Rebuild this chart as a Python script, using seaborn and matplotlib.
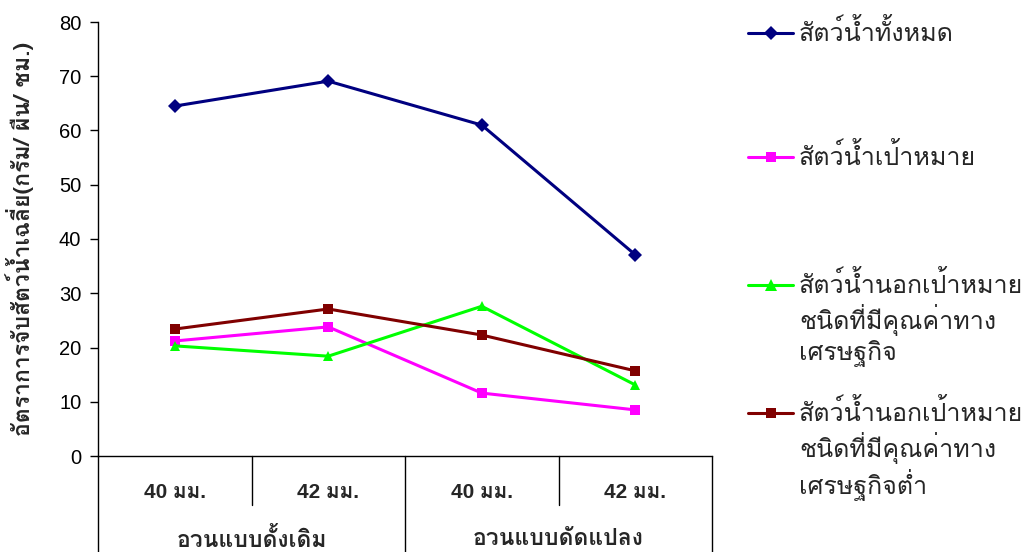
import numpy as np
import pandas as pd
import matplotlib
matplotlib.use("Agg")
import matplotlib.pyplot as plt
import seaborn as sns
from matplotlib.lines import Line2D

# Mesh sizes (lower tier) and net types (upper tier)
mesh_labels = ["40 มม.", "42 มม.", "40 มม.", "42 มม."]
net_types = ["อวนแบบดั้งเดิม", "อวนแบบดัดแปลง"]
positions = [0, 1, 2, 3]

series_names = [
    "สัตว์น้ำทั้งหมด",
    "สัตว์น้ำเป้าหมาย",
    "สัตว์น้ำนอกเป้าหมาย\nชนิดที่มีคุณค่าทาง\nเศรษฐกิจ",
    "สัตว์น้ำนอกเป้าหมาย\nชนิดที่มีคุณค่าทาง\nเศรษฐกิจต่ำ",
]
total_catch = [64.5, 69.1, 61.0, 37.1]
target_catch = [21.2, 23.8, 11.6, 8.5]
bycatch_econ = [20.3, 18.4, 27.6, 13.1]
bycatch_low = [23.4, 27.1, 22.3, 15.7]

colors = ["#000080", "#FF00FF", "#00FF00", "#800000"]
markers = ["D", "s", "^", "s"]
marker_sizes = [7.5, 7.5, 8.5, 7.5]

y_label = "อัตราการจับสัตว์น้ำเฉลี่ย(กรัม/ ผืน/ ชม.)"

sns.set_theme(style="white")
thai = ["Loma", "DejaVu Sans"]
latin_thai = ["Liberation Sans", "Loma", "DejaVu Sans"]
plt.rcParams["font.family"] = latin_thai

df = pd.DataFrame({
    "pos": positions * 4,
    "value": total_catch + target_catch + bycatch_econ + bycatch_low,
    "series": [s for s in series_names for _ in positions],
})

fig = plt.figure(figsize=(10.24, 5.52), dpi=100)
ax = fig.add_axes([98 / 1024, 1 - 456 / 552, 614 / 1024, 434 / 552])

palette = dict(zip(series_names, colors))
marker_map = dict(zip(series_names, markers))
sns.lineplot(data=df, x="pos", y="value", hue="series", style="series",
             palette=palette, markers=marker_map, dashes=False, sort=False,
             linewidth=2.2, markersize=7.5, markeredgewidth=0, legend=False, ax=ax)

ax.set_xlim(-0.5, 3.5)
ax.set_ylim(0, 80)
ax.set_yticks(np.arange(0, 81, 10))
ax.set_xticks([])
ax.set_xlabel("")
ax.set_ylabel(y_label, fontsize=16.5, fontweight="bold", labelpad=18, family=thai)
ax.tick_params(axis="y", which="both", left=True, length=6, width=1,
               direction="out", labelsize=14.5, colors="black", pad=6)
for side in ["top", "right"]:
    ax.spines[side].set_visible(False)
for side in ["left", "bottom"]:
    ax.spines[side].set_color("black")
    ax.spines[side].set_linewidth(1)

# Two-tier category table under the axis
tr = ax.get_xaxis_transform()
low = -96 / 434
mid = -49 / 434
for x, bottom in [(-0.5, low), (0.5, mid), (1.5, low), (2.5, mid), (3.5, low)]:
    ax.plot([x, x], [0, bottom], color="black", lw=1, transform=tr, clip_on=False)
for p, lab in zip(positions, mesh_labels):
    ax.text(p, -37 / 434, lab, transform=tr, ha="center", va="center",
            fontsize=15, fontweight="bold")
for i, lab in enumerate(net_types):
    ax.text(2 * i + 0.5, -83 / 434, lab, transform=tr, ha="center", va="center",
            fontsize=16.5, fontweight="bold", family=thai)

# Legend, with each marker beside the first line of its label
legend_rows = [33, 157, 285, 413]
for name, c, m, ms, yr in zip(series_names, colors, markers, marker_sizes, legend_rows):
    yf = 1 - yr / 552
    fig.add_artist(Line2D([748 / 1024, 770.5 / 1024, 793 / 1024], [yf, yf, yf],
                          color=c, lw=2.2, marker=m, markersize=ms,
                          markeredgewidth=0, markevery=[1],
                          transform=fig.transFigure))
    fig.text(799 / 1024, yf + 14 / 552, name, ha="left", va="top", fontsize=18,
             linespacing=1.22, family=thai)

fig.savefig("out.png", dpi=100)
